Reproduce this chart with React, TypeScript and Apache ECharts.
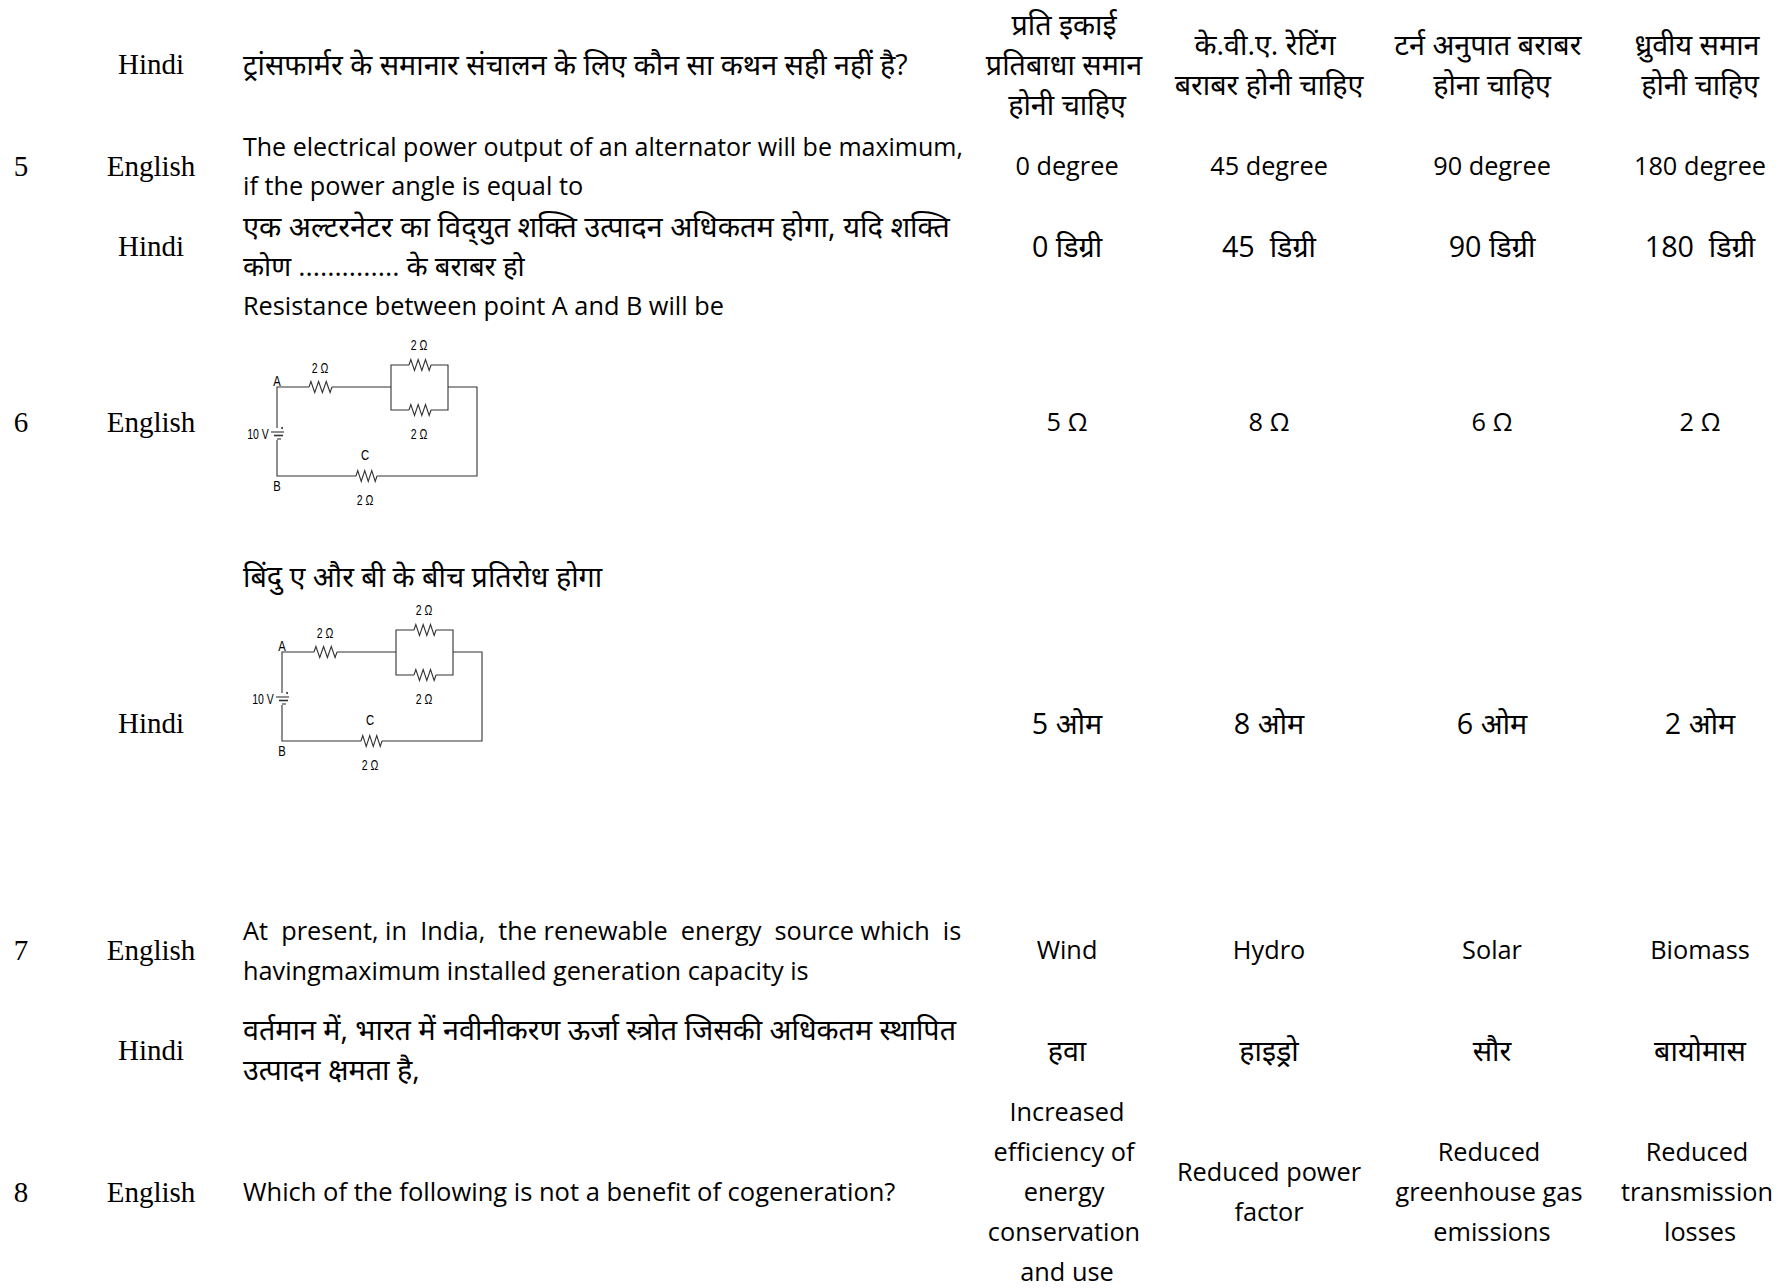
import React, { useEffect, useRef } from "react";
import * as echarts from "echarts";

const questionNumbers = ["5", "6", "7", "8"];
const languages = ["Hindi", "English", "Hindi", "English", "Hindi", "English", "Hindi", "English"];
const questionLines = [
  ["ट्रांसफार्मर के समानार संचालन के लिए कौन सा कथन सही नहीं है?"],
  ["The electrical power output of an alternator will be maximum,", "if the power angle is equal to"],
  ["एक अल्टरनेटर का विद्\u200Cयुत शक्ति उत्पादन अधिकतम होगा, यदि शक्ति", "कोण .............. के बराबर हो"],
  ["Resistance between point A and B will be"],
  ["बिंदु ए और बी के बीच प्रतिरोध होगा"],
  ["At  present, in  India,  the renewable  energy  source which  is", "havingmaximum installed generation capacity is"],
  ["वर्तमान में, भारत में नवीनीकरण ऊर्जा स्त्रोत जिसकी अधिकतम स्थापित", "उत्पादन क्षमता है,"],
  ["Which of the following is not a benefit of cogeneration?"],
];
const optionA = [
  ["प्रति इकाई", "प्रतिबाधा समान", "होनी चाहिए"], ["0 degree"], ["0 डिग्री"], ["5 Ω"], ["5 ओम"], ["Wind"], ["हवा"],
  ["Increased", "efficiency of", "energy", "conservation", "and use"],
];
const optionB = [
  ["के.वी.ए. रेटिंग", "बराबर होनी चाहिए"], ["45 degree"], ["45  डिग्री"], ["8 Ω"], ["8 ओम"], ["Hydro"], ["हाइड्रो"],
  ["Reduced power", "factor"],
];
const optionC = [
  ["टर्न अनुपात बराबर", "होना चाहिए"], ["90 degree"], ["90 डिग्री"], ["6 Ω"], ["6 ओम"], ["Solar"], ["सौर"],
  ["Reduced", "greenhouse gas", "emissions"],
];
const optionD = [
  ["ध्रुवीय समान", "होनी चाहिए"], ["180 degree"], ["180  डिग्री"], ["2 Ω"], ["2 ओम"], ["Biomass"], ["बायोमास"],
  ["Reduced", "transmission", "losses"],
];
const circuitLabels = ["2 Ω", "2 Ω", "2 Ω", "C", "2 Ω", "A", "B", "10 V"];

// layout
const ROW_Y = [65, 167, 247, 423, 724, 951, 1051, 1193];
const NUMBER_ROWS = [1, 3, 5, 7];
const Q_Y = [[65], [148, 187], [227, 267], [307], [577], [932, 972], [1030, 1070], [1193]];
const OPTION_X = [1067, 1269, 1492, 1700];
const LINE_H = 40;
const LINE_SHIFT: Record<string, number> = {
  "प्रति इकाई": -3, "प्रतिबाधा समान": -3, "के.वी.ए. रेटिंग": -4,
  "टर्न अनुपात बराबर": -4, "ध्रुवीय समान": -3, "efficiency of": -3, "energy": -3, "conservation": -3,
  "Reduced": -3, "greenhouse gas": -3, "transmission": -3,
};
const SERIF = '"Liberation Serif", serif';
const SANS = '"Open Sans", "Noto Sans", "Noto Sans Devanagari", sans-serif';
const NARROW = '"Liberation Sans", sans-serif';
const SERIF_SIZE = 29;
const BODY_SIZE = 25.3;
const HINDI_SIZE = 28.7;
const DEVANAGARI = /[\u0900-\u097F]/;
// lines whose width in the reference asks for a slightly different size
const SIZE_BY_LINE_START: [string, number][] = [
  ["The electrical", 25],
  ["Which of", 25.5],
  ["एक अल्टरनेटर", 29],
  ["कोण", 27.5],
];

function txt(text: string, x: number, y: number, family: string, size: number, align = "center", scaleX = 1) {
  return {
    type: "text",
    silent: true,
    x,
    y,
    scaleX,
    style: { text, x: 0, y: 0, fill: "#000", font: `${size}px ${family}`, textAlign: align, textVerticalAlign: "middle", verticalAlign: "middle" },
  };
}

function body(text: string, x: number, y: number, align = "center") {
  const hindi = DEVANAGARI.test(text);
  const special = SIZE_BY_LINE_START.find(([start]) => text.startsWith(start));
  const size = special ? special[1] : hindi ? HINDI_SIZE : BODY_SIZE;
  return txt(text, x, y - (hindi ? 1.5 : 2), SANS, size, align);
}

function zig(x0: number, x1: number, y: number) {
  const n = 6;
  const pts: number[][] = [[x0, y]];
  const step = (x1 - x0) / n;
  for (let i = 0; i < n; i++) {
    pts.push([x0 + step * (i + 0.5), y + (i % 2 === 0 ? -5.5 : 5.5)]);
  }
  pts.push([x1, y]);
  return pts;
}

function circuit(dx: number, dy: number) {
  const line = (points: number[][], lineWidth = 1.1) => ({
    type: "polyline",
    silent: true,
    shape: { points },
    style: { stroke: "#333", lineWidth, fill: "none" },
  });
  const labelPos = [[320, 368], [419, 345], [419, 434], [365, 455], [365, 500], [277, 381], [277, 486], [258, 434]];
  return {
    type: "group",
    x: dx,
    y: dy,
    children: [
      line([[277, 428], [277, 387], [309, 387]]),
      line(zig(309, 332, 387)),
      line([[332, 387], [391, 387]]),
      line([[391, 387], [391, 365], [409, 365]]),
      line(zig(409, 431, 365)),
      line([[431, 365], [448, 365], [448, 410], [431, 410]]),
      line(zig(409, 431, 410)),
      line([[409, 410], [391, 410], [391, 387]]),
      line([[448, 387], [477, 387], [477, 476], [377, 476]]),
      line(zig(356, 377, 476)),
      line([[356, 476], [277, 476], [277, 440]]),
      line([[271, 432], [284, 432]]),
      line([[274, 435.5], [283, 435.5]], 1.6),
      line([[277, 439], [281, 439]]),
      { type: "circle", silent: true, shape: { cx: 282, cy: 428, r: 1 }, style: { fill: "#333" } },
      ...circuitLabels.map((t, i) => txt(t, labelPos[i][0], labelPos[i][1], NARROW, t.length === 1 ? 15 : 14, "center", 0.75)),
    ],
  };
}

function buildGraphic() {
  const out: any[] = [];
  NUMBER_ROWS.forEach((r, i) => out.push(txt(questionNumbers[i], 21, ROW_Y[r] - 1.5, SERIF, SERIF_SIZE)));
  languages.forEach((l, r) => out.push(txt(l, 151, ROW_Y[r] - 1.5, SERIF, SERIF_SIZE)));
  questionLines.forEach((lines, r) =>
    lines.forEach((l, i) => out.push(body(l, 243, Q_Y[r][i], "left")))
  );
  [optionA, optionB, optionC, optionD].forEach((col, c) =>
    col.forEach((lines, r) => {
      const top = ROW_Y[r] - ((lines.length - 1) * LINE_H) / 2;
      lines.forEach((l, i) => {
        const y = r === 0 && lines.length === 2 ? 45 + i * LINE_H : top + i * LINE_H;
        out.push(body(l, OPTION_X[c] + (LINE_SHIFT[l] ?? 0), y));
      });
    })
  );
  out.push(circuit(0, 0), circuit(5, 265));
  return out;
}

export default function App() {
  const ref = useRef<HTMLDivElement>(null);
  useEffect(() => {
    document.body.style.margin = "0";
    const chart = echarts.init(ref.current!, undefined, { renderer: "svg" });
    chart.setOption({ animation: false, backgroundColor: "#fff", graphic: { elements: buildGraphic() } });
    return () => chart.dispose();
  }, []);
  return <div ref={ref} style={{ width: 1785, height: 1288 }} />;
}
